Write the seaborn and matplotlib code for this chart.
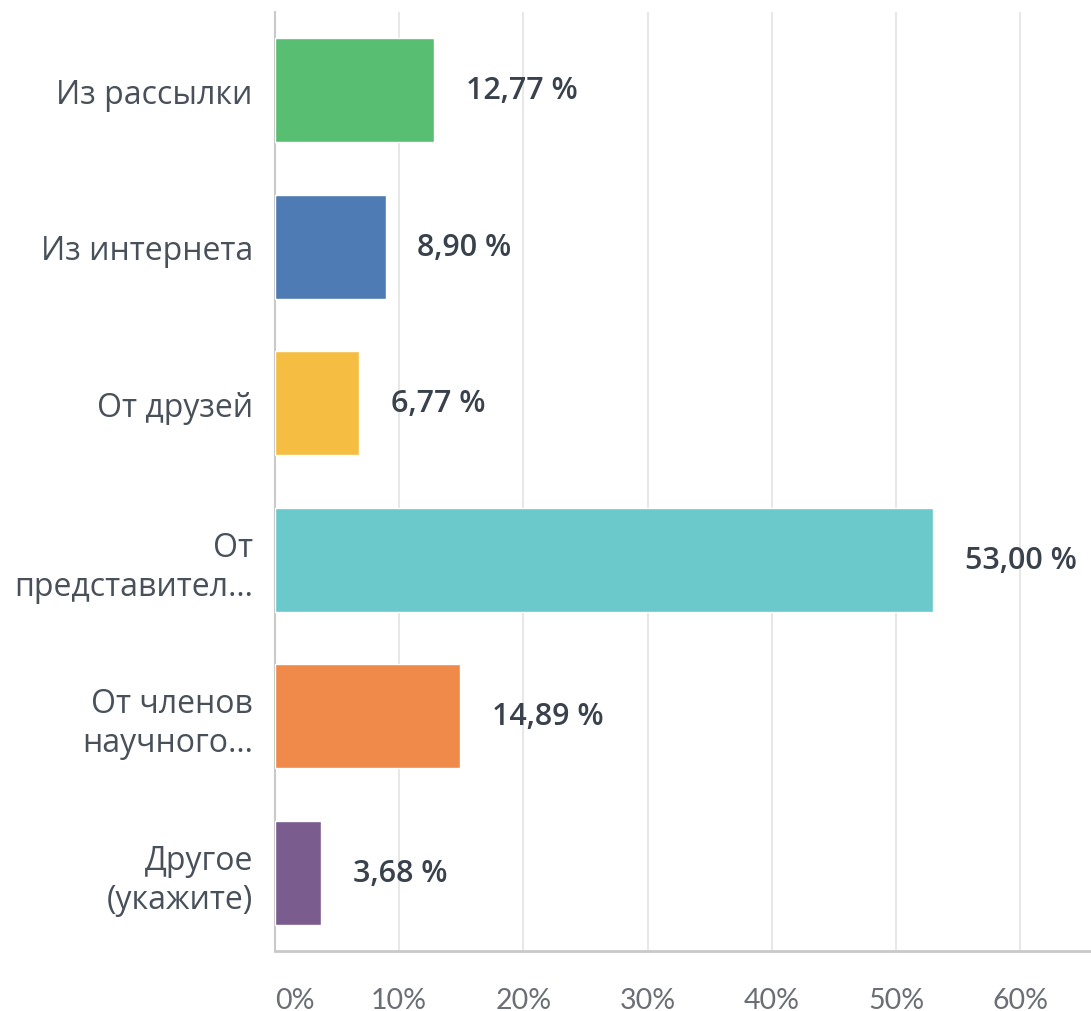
import matplotlib
matplotlib.use("Agg")
import matplotlib.pyplot as plt
import seaborn as sns
import pandas as pd

categories = ["Из рассылки", "Из интернета", "От друзей",
              "От\nпредставител…", "От членов\nнаучного…", "Другое\n(укажите)"]
values = [12.77, 8.90, 6.77, 53.00, 14.89, 3.68]
colors = ["#58BF72", "#4F7BB5", "#F5BE42", "#6BC8CB", "#F08A4B", "#7A5C8F"]
ticks = [0, 10, 20, 30, 40, 50, 60]
tick_labels = ["0%", "10%", "20%", "30%", "40%", "50%", "60%"]

sns.set_style("white")
plt.rcParams['font.family'] = ['Open Sans', 'DejaVu Sans']

df = pd.DataFrame({"cat": categories, "val": values})

fig = plt.figure(figsize=(10.91, 10.12), dpi=100)
ax = fig.add_axes([275/1091, 1-952/1012, 1-275/1091, (952-13)/1012])

sns.barplot(data=df, x="val", y="cat", hue="cat", palette=colors, orient="h",
            width=0.665, legend=False, ax=ax, saturation=1, zorder=3)

ax.set_xlim(0, 65.7)
ax.set_ylim(5.5, -0.5)
ax.set_xticks(ticks)
ax.set_xticklabels(tick_labels, fontfamily=['Lato', 'DejaVu Sans'], fontsize=20.5, color="#6b6f75")
ax.get_xticklabels()[0].set_horizontalalignment("left")
ax.tick_params(axis='x', length=0, pad=26)
ax.tick_params(axis='y', length=0, pad=16)
for lab in ax.get_yticklabels():
    lab.set_fontsize(23)
    lab.set_color("#48505a")
    lab.set_linespacing(1.25)
    lab.set_horizontalalignment("right")
    lab.set_multialignment("right")
ax.set_xlabel("")
ax.set_ylabel("")
ax.grid(axis='x', color="#e3e3e3", linewidth=1.2, zorder=0)
ax.set_axisbelow(True)
for s in ["top", "right"]:
    ax.spines[s].set_visible(False)
ax.spines["left"].set_color("#c9c9c9")
ax.spines["left"].set_linewidth(1.5)
ax.spines["bottom"].set_color("#c9c9c9")
ax.spines["bottom"].set_linewidth(2)

for i, v in enumerate(values):
    txt = f"{v:.2f}".replace(".", ",") + " %"
    ax.annotate(txt, xy=(v, i), xytext=(23, 0), textcoords="offset points",
                ha="left", va="center", fontsize=22, fontweight="semibold", color="#39424c")

fig.savefig("out.png", dpi=100)
